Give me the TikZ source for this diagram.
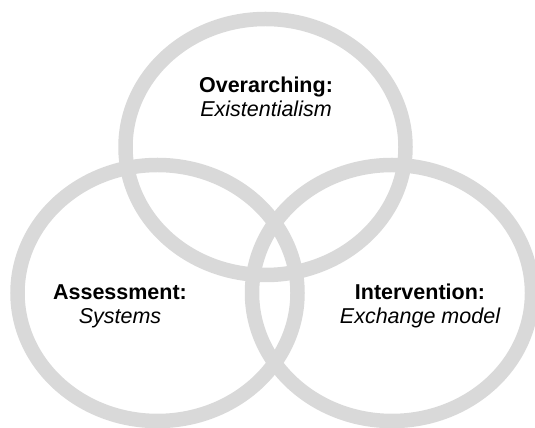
\documentclass[tikz,border=0pt]{standalone}
\usepackage{fontspec}
\setmainfont{Liberation Sans}
\definecolor{ringgray}{HTML}{D9D9D9}
\begin{document}
\begin{tikzpicture}[x=1pt,y=1pt,
  ring/.style={draw=ringgray, line width=14.5pt},
  lblb/.style={font=\fontsize{21.5}{25}\selectfont\bfseries, inner sep=0pt, anchor=base},
  lbli/.style={font=\fontsize{21.5}{25}\selectfont\itshape, inner sep=0pt, anchor=base}
]
\useasboundingbox (0,0) rectangle (535,428);
% circles (pixel centres; y flipped)
\draw[ring] (265.5,{428-147}) ellipse [x radius=140, y radius=128];
\draw[ring] (157.5,{428-293}) ellipse [x radius=140, y radius=128];
\draw[ring] (392,{428-293}) ellipse [x radius=140, y radius=128];
% labels
\node[lblb] (overT) at (266,{428-93}) {Overarching:};
\node[lbli] (overS) at (266,{428-117}) {Existentialism};
\node[lblb] (assT) at (120,{428-300}) {Assessment:};
\node[lbli] (assS) at (120,{428-324}) {Systems};
\node[lblb] (intT) at (420,{428-300}) {Intervention:};
\node[lbli] (intS) at (420,{428-324}) {Exchange model};
\end{tikzpicture}
\end{document}
